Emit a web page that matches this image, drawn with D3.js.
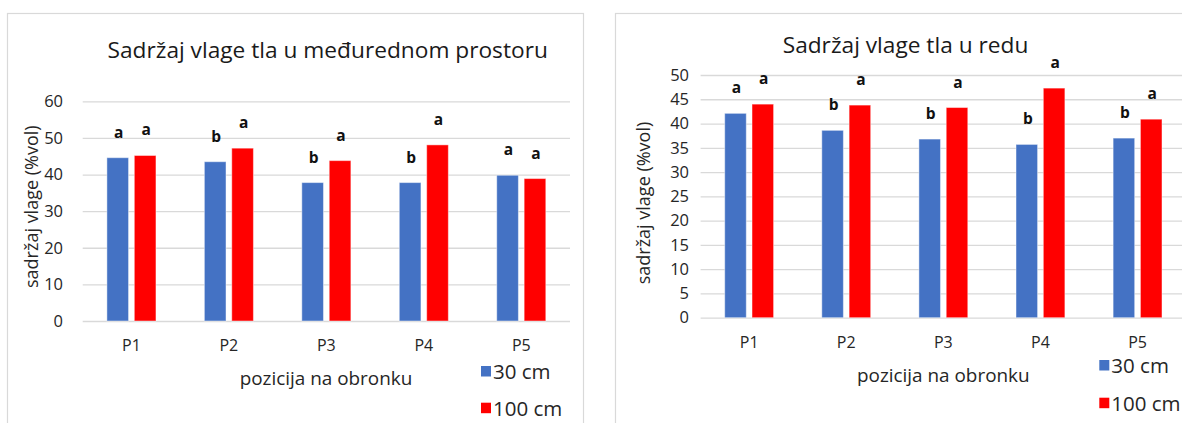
<!DOCTYPE html>
<html>
<head>
<meta charset="utf-8">
<script src="https://cdn.jsdelivr.net/npm/d3@7"></script>
<style>
  html, body { margin: 0; padding: 0; background: #fff; }
  svg { display: block; font-family: "Open Sans", "Lato", sans-serif; }
</style>
</head>
<body>
<div id="chart"></div>
<script>
// ---- data ----
const positions = ["P1", "P2", "P3", "P4", "P5"];
const seriesNames = ["30 cm", "100 cm"];

// interrow space (left chart)
const interrow30 = [44.6, 43.5, 37.8, 37.8, 39.8];
const interrow100 = [45.2, 47.2, 43.8, 48.1, 38.9];
const interrowLetters30 = ["a", "b", "b", "b", "a"];
const interrowLetters100 = ["a", "a", "a", "a", "a"];
const interrowTicks = [0, 10, 20, 30, 40, 50, 60];

// in the row (right chart)
const row30 = [42.1, 38.6, 36.8, 35.7, 37.0];
const row100 = [44.0, 43.8, 43.3, 47.3, 40.9];
const rowLetters30 = ["a", "b", "b", "b", "b"];
const rowLetters100 = ["a", "a", "a", "a", "a"];
const rowTicks = [0, 5, 10, 15, 20, 25, 30, 35, 40, 45, 50];

const COLORS = {
  "30 cm": "#4472C4",
  "100 cm": "#FF0000",
  grid: "#D9D9D9",
  border: "#D9D9D9",
  text: "#262626",
};

const W = 1182, H = 423;

const svg = d3.select("#chart").append("svg")
  .attr("width", W)
  .attr("height", H);

svg.append("rect").attr("width", W).attr("height", H).attr("fill", "#fff");

const charts = [
  {
    title: "Sadržaj vlage tla u međurednom prostoru",
    values: [interrow30, interrow100],
    letters: [interrowLetters30, interrowLetters100],
    ticks: interrowTicks,
    box: { x: 7, y: 13, w: 576, h: 430 },
    plot: { left: 82.7, right: 570, top: 101.3, bottom: 321 },
    titlePos: { x: 327.7, y: 58.3 },
    yLabelPos: { x: 30.7, y: 206.7 },
    tickRight: 63,
    xTitlePos: { x: 326, y: 377.7 },
    legendPos: { x: 481, y: 366, dy: 36.7 },
  },
  {
    title: "Sadržaj vlage tla u redu",
    values: [row30, row100],
    letters: [rowLetters30, rowLetters100],
    ticks: rowTicks,
    box: { x: 615, y: 13, w: 600, h: 430 },
    plot: { left: 700.6, right: 1186.1, top: 75, bottom: 317.7 },
    titlePos: { x: 905.5, y: 53.3 },
    yLabelPos: { x: 642.8, y: 203 },
    tickRight: 689,
    xTitlePos: { x: 943.3, y: 375 },
    legendPos: { x: 1099.3, y: 360, dy: 37.7 },
  },
];

charts.forEach(drawChart);

function drawChart(cfg) {
  const g = svg.append("g");

  // chart frame
  g.append("rect")
    .attr("x", cfg.box.x + 0.5)
    .attr("y", cfg.box.y + 0.5)
    .attr("width", cfg.box.w)
    .attr("height", cfg.box.h)
    .attr("fill", "#fff")
    .attr("stroke", COLORS.border)
    .attr("stroke-width", 1.2);

  const x0 = d3.scaleBand()
    .domain(positions)
    .range([cfg.plot.left, cfg.plot.right])
    .padding(0);

  const x1 = d3.scaleBand()
    .domain(seriesNames)
    .range([0, x0.bandwidth()])
    .paddingInner(0.21)
    .paddingOuter(0.883);

  const yMax = d3.max(cfg.ticks);
  const y = d3.scaleLinear()
    .domain([0, yMax])
    .range([cfg.plot.bottom, cfg.plot.top]);

  const pw = cfg.plot.right - cfg.plot.left;

  // gridlines
  g.append("g")
    .attr("transform", `translate(${cfg.plot.left},0)`)
    .call(d3.axisLeft(y).tickValues(cfg.ticks).tickSize(-pw).tickFormat(""))
    .call((a) => a.select(".domain").remove())
    .call((a) => a.selectAll("line").attr("stroke", COLORS.grid).attr("stroke-width", 1.3));

  // y tick labels
  g.append("g")
    .attr("transform", `translate(${cfg.plot.left},0)`)
    .call(d3.axisLeft(y).tickValues(cfg.ticks).tickSize(0).tickPadding(cfg.plot.left - cfg.tickRight))
    .call((a) => a.select(".domain").remove())
    .call((a) => a.selectAll("text")
      .attr("fill", COLORS.text)
      .style("font-size", "16.5px")
      .style("font-family", "Open Sans"));

  // x tick labels
  g.append("g")
    .attr("transform", `translate(0,${cfg.plot.bottom})`)
    .call(d3.axisBottom(x0).tickSize(0).tickPadding(19))
    .call((a) => a.select(".domain").remove())
    .call((a) => a.selectAll("text")
      .attr("fill", COLORS.text)
      .style("font-size", "16px")
      .style("font-family", "Open Sans"));

  // bars
  const rows = positions.map((p, i) => ({
    pos: p,
    items: seriesNames.map((s, k) => ({
      series: s,
      value: cfg.values[k][i],
      letter: cfg.letters[k][i],
    })),
  }));

  const groups = g.selectAll(".grp")
    .data(rows)
    .enter()
    .append("g")
    .attr("class", "grp")
    .attr("transform", (d) => `translate(${x0(d.pos)},0)`);

  groups.selectAll("rect")
    .data((d) => d.items)
    .enter()
    .append("rect")
    .attr("x", (d) => x1(d.series))
    .attr("y", (d) => y(d.value))
    .attr("width", x1.bandwidth())
    .attr("height", (d) => y(0) - y(d.value))
    .attr("fill", (d) => COLORS[d.series])
    .attr("stroke", "#fff")
    .attr("stroke-opacity", 0.45)
    .attr("stroke-width", 1);

  // significance letters
  groups.selectAll("text.letter")
    .data((d) => d.items)
    .enter()
    .append("text")
    .attr("class", "letter")
    .attr("x", (d) => x1(d.series) + x1.bandwidth() / 2 + 1)
    .attr("y", (d) => y(d.value) - 20)
    .attr("text-anchor", "middle")
    .attr("fill", "#111")
    .style("font-size", "15.5px")
    .style("font-weight", 700)
    .text((d) => d.letter);

  // title
  g.append("text")
    .attr("x", cfg.titlePos.x)
    .attr("y", cfg.titlePos.y)
    .attr("text-anchor", "middle")
    .attr("fill", "#1a1a1a")
    .style("font-size", "22.7px")
    .text(cfg.title);

  // y axis title
  g.append("text")
    .attr("transform", `translate(${cfg.yLabelPos.x},${cfg.yLabelPos.y}) rotate(-90)`)
    .attr("text-anchor", "middle")
    .attr("dominant-baseline", "central")
    .attr("fill", COLORS.text)
    .style("font-size", "18px")
    .text("sadržaj vlage (%vol)");

  // x axis title
  g.append("text")
    .attr("x", cfg.xTitlePos.x)
    .attr("y", cfg.xTitlePos.y)
    .attr("text-anchor", "middle")
    .attr("dominant-baseline", "central")
    .attr("fill", COLORS.text)
    .style("font-size", "18.9px")
    .text("pozicija na obronku");

  // legend
  const legend = g.append("g")
    .attr("transform", `translate(${cfg.legendPos.x},${cfg.legendPos.y})`);

  seriesNames.forEach((s, k) => {
    const item = legend.append("g")
      .attr("transform", `translate(0,${k * cfg.legendPos.dy})`);
    item.append("rect")
      .attr("width", 10)
      .attr("height", 10.5)
      .attr("fill", COLORS[s]);
    item.append("text")
      .attr("x", 12)
      .attr("y", 5.2)
      .attr("dominant-baseline", "central")
      .attr("fill", COLORS.text)
      .style("font-size", "20.5px")
      .text(s);
  });
}
</script>
</body>
</html>
